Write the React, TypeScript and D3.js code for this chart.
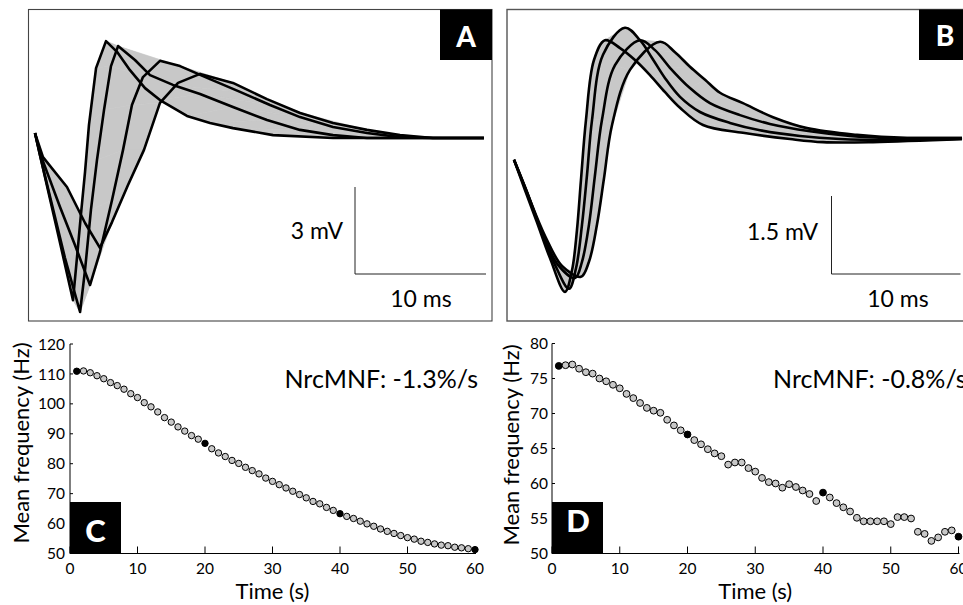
import React from 'react';
import * as d3 from 'd3';

type Pt = [number, number];

// ---- Panel A waveforms: [time ms, amplitude mV] (traces 1, 20, 40, 60) ----
const waveA1: Pt[] = [[0,0.17],[0.76,-1.34],[1.53,-2.86],[2.21,-4.21],[2.90,-5.59],[3.21,-4.10],[3.51,-2.62],[3.82,-1.17],[4.12,0.45],[4.66,2.41],[5.42,3.34],[6.26,2.97],[7.25,2.34],[8.40,1.72],[9.54,1.31],[11.60,0.76],[13.36,0.52],[15.11,0.34],[18.17,0.10],[22.75,0],[27.86,0],[34.27,0]];
const waveA2: Pt[] = [[0,0.17],[0.38,-0.59],[1.15,-2.03],[2.29,-4.14],[3.44,-6.00],[3.82,-4.55],[4.27,-2.48],[4.73,-0.76],[5.27,0.97],[5.80,2.48],[6.34,3.17],[7.63,2.69],[8.78,2.17],[10.53,1.83],[12.60,1.52],[15.11,1.07],[17.71,0.62],[20.23,0.28],[22.75,0.10],[25.34,0],[29.39,0],[34.27,0]];
const waveA3: Pt[] = [[0,0.17],[0.38,-0.52],[1.91,-2.38],[3.05,-3.69],[4.20,-5.07],[4.96,-3.93],[5.88,-2.14],[6.72,-0.41],[7.40,1.14],[8.24,2.10],[9.54,2.66],[11.07,2.48],[13.36,2.03],[15.65,1.59],[17.94,1.14],[20.23,0.72],[22.75,0.38],[25.34,0.17],[27.86,0.03],[30.38,0],[32.44,0],[34.27,0]];
const waveA4: Pt[] = [[0,0.17],[0.61,-0.66],[2.44,-1.69],[3.82,-2.93],[4.96,-3.79],[5.88,-2.90],[7.10,-1.62],[8.32,-0.41],[9.54,1.21],[10.92,1.90],[12.60,2.21],[15.11,1.90],[17.71,1.34],[20.23,0.86],[22.75,0.52],[25.34,0.28],[27.86,0.10],[30.38,0],[31.68,0],[32.44,0],[33.21,0],[34.27,0]];

// ---- Panel B waveforms ----
const waveB1: Pt[] = [[0,-0.42],[0.85,-1.00],[1.78,-1.62],[2.79,-2.31],[3.95,-2.96],[4.50,-2.54],[4.88,-1.77],[5.19,-0.81],[5.58,0.35],[6.20,1.50],[7.05,1.88],[8.22,1.73],[9.38,1.50],[10.54,1.21],[11.71,0.88],[12.87,0.58],[14.65,0.25],[17.75,0.10],[21.40,-0.02],[23.95,-0.08],[27.83,-0.08],[34.73,-0.02]];
const waveB2: Pt[] = [[0,-0.42],[0.93,-1.00],[2.02,-1.73],[3.18,-2.44],[4.26,-2.90],[4.81,-2.50],[5.27,-1.67],[5.66,-0.71],[6.05,0.35],[6.90,1.60],[8.60,2.12],[9.77,1.88],[10.70,1.54],[11.71,1.15],[12.87,0.79],[14.42,0.50],[16.74,0.29],[19.07,0.15],[22.17,0.04],[25.27,-0.02],[29.15,-0.04],[34.73,-0.02]];
const waveB3: Pt[] = [[0,-0.42],[1.01,-1.04],[2.17,-1.81],[3.41,-2.44],[4.73,-2.69],[5.27,-2.38],[5.81,-1.67],[6.28,-0.71],[6.82,0.35],[7.83,1.40],[9.77,1.88],[10.93,1.69],[12.09,1.35],[13.64,0.96],[15.19,0.67],[17.52,0.44],[19.84,0.27],[22.95,0.13],[26.05,0.04],[29.15,0],[31.86,0],[34.73,0]];
const waveB4: Pt[] = [[0,-0.42],[1.09,-1.10],[2.40,-1.88],[3.72,-2.46],[5.19,-2.67],[5.81,-2.38],[6.43,-1.67],[6.98,-0.77],[7.60,0.25],[8.99,1.31],[11.32,1.85],[12.48,1.65],[13.64,1.37],[14.81,1.12],[15.97,0.87],[17.75,0.67],[20.08,0.40],[22.71,0.19],[26.59,0.06],[30.47,0],[32.64,0],[34.73,0]];

// ---- Panels C & D: mean frequency vs time ----
const timeS = [1,2,3,4,5,6,7,8,9,10,11,12,13,14,15,16,17,18,19,20,21,22,23,24,25,26,27,28,29,30,31,32,33,34,35,36,37,38,39,40,41,42,43,44,45,46,47,48,49,50,51,52,53,54,55,56,57,58,59,60];
const freqC = [110.9,111.0,110.4,109.4,108.4,107.1,106.1,104.9,103.4,102.1,100.4,99.0,97.3,95.4,93.9,92.3,90.9,89.4,88.2,86.8,85.0,83.6,82.4,81.1,80.1,78.8,77.7,76.6,75.2,74.1,73.0,71.9,70.8,69.7,68.6,67.4,66.6,65.4,64.4,63.3,62.4,61.7,60.8,59.9,59.1,58.2,57.4,56.7,56.0,55.3,54.8,54.1,53.7,53.2,52.8,52.6,52.1,51.9,51.6,51.3];
const freqD = [76.8,76.9,77.0,76.4,75.9,75.7,75.0,74.6,74.1,73.6,72.8,72.2,71.5,70.8,70.4,70.1,69.1,68.3,67.6,67.0,66.2,65.6,64.9,64.3,63.9,62.7,63.0,63.0,62.2,61.7,60.8,60.2,60.0,59.4,59.9,59.5,59.0,58.5,57.5,58.7,58.0,57.2,56.6,56.0,55.1,54.6,54.6,54.6,54.6,54.2,55.2,55.2,55.0,53.1,52.8,51.8,52.3,53.1,53.3,52.4];
const highlightTimes = [1, 20, 40, 60];

const xTicks = [0, 10, 20, 30, 40, 50, 60];
const yTicksC = [50, 60, 70, 80, 90, 100, 110, 120];
const yTicksD = [50, 55, 60, 65, 70, 75, 80];

const FONT = "Lato, 'Open Sans', 'DejaVu Sans', sans-serif";

type Lin = d3.ScaleLinear<number, number>;

function WavePanel({ traces, x, y, curve }: { traces: Pt[][]; x: Lin; y: Lin; curve: d3.CurveFactory }) {
  const line = d3.line<Pt>().x(d => x(d[0])).y(d => y(d[1])).curve(curve);
  const polys: string[] = [];
  for (let k = 0; k < traces.length - 1; k++) {
    const a = traces[k], b = traces[k + 1];
    for (let i = 0; i < a.length - 1; i++) {
      const pts: [number, number][] = [a[i], a[i + 1], b[i + 1], b[i]].map(p => [x(p[0]), y(p[1])] as [number, number]);
      const hull = d3.polygonHull(pts);
      if (hull) polys.push(hull.map(p => p.join(',')).join(' '));
    }
  }
  return (
    <g>
      {polys.map((p, i) => (
        <polygon key={i} points={p} fill="#c8c8c8" stroke="#c8c8c8" strokeWidth={0.6} />
      ))}
      {traces.map((t, i) => (
        <path key={i} d={line(t) || ''} fill="none" stroke="#000" strokeWidth={2.6} strokeLinejoin="round" />
      ))}
    </g>
  );
}

function ScatterPanel({ x, y, yTicks, values, yLabelX, yTitleX, yTitleY, r }: {
  x: Lin; y: Lin; yTicks: number[]; values: number[]; yLabelX: number; yTitleX: number; yTitleY: number; r: number;
}) {
  const [x0] = x.range();
  const [y0, y1] = y.range();
  const xEnd = x(60);
  return (
    <g fontFamily={FONT}>
      {timeS.map((t, i) => {
        const hl = highlightTimes.includes(t);
        return (
          <circle key={i} cx={x(t)} cy={y(values[i])} r={r}
            fill={hl ? '#000' : '#c8c8c8'} stroke="#000" strokeWidth={1} />
        );
      })}
      <line x1={x0} x2={x0} y1={y1} y2={y0} stroke="#000" strokeWidth={1} />
      <line x1={x0} x2={xEnd + 1} y1={y0} y2={y0} stroke="#000" strokeWidth={1} />
      {yTicks.map(v => (
        <g key={v}>
          <line x1={x0} x2={x0 + 3} y1={y(v)} y2={y(v)} stroke="#000" strokeWidth={1} />
          <text x={yLabelX} y={y(v)} dy="0.36em" textAnchor="end" fontSize={15.5}>{v}</text>
        </g>
      ))}
      {xTicks.map(t => (
        <g key={t}>
          <line x1={x(t)} x2={x(t)} y1={y0} y2={y0 - 7} stroke="#000" strokeWidth={1} />
          <text x={x(t)} y={573.5} textAnchor="middle" fontSize={15.5}>{t}</text>
        </g>
      ))}
      <text x={(x0 + xEnd) / 2} y={599} textAnchor="middle" fontSize={22}>Time (s)</text>
      <text transform={`translate(${yTitleX},${yTitleY}) rotate(-90)`} textAnchor="middle" fontSize={22}>Mean frequency (Hz)</text>
    </g>
  );
}

function LabelBox({ x, y, w, h, letter, tx, ty, size }: { x: number; y: number; w: number; h: number; letter: string; tx: number; ty: number; size: number }) {
  return (
    <g>
      <rect x={x} y={y} width={w} height={h} fill="#000" />
      <text x={tx} y={ty} textAnchor="middle" fill="#fff" fontFamily={FONT} fontWeight={900} fontSize={size}>{letter}</text>
    </g>
  );
}

export default function App() {
  const xA = d3.scaleLinear().domain([0, 10]).range([35, 166]);
  const yA = d3.scaleLinear().domain([0, 3]).range([138, 51]);
  const xB = d3.scaleLinear().domain([0, 10]).range([514, 643]);
  const yB = d3.scaleLinear().domain([0, 1.5]).range([138, 60]);

  const xC = d3.scaleLinear().domain([0, 60]).range([70, 475]);
  const yC = d3.scaleLinear().domain([50, 120]).range([553.5, 344]);
  const xD = d3.scaleLinear().domain([0, 60]).range([552, 958.5]);
  const yD = d3.scaleLinear().domain([50, 80]).range([553.5, 343.5]);

  const barA = { x: 355, y: 274, v: yA(0) - yA(3), h: xA(10) - xA(0) };
  const barB = { x: 831.5, y: 274, v: yB(0) - yB(1.5), h: xB(10) - xB(0) };

  return (
    <svg width={963} height={605} style={{ position: 'absolute', left: 0, top: 0, background: '#fff' }}>
      {/* Panel A */}
      <rect x={28.5} y={9.5} width={463.5} height={311.5} fill="none" stroke="#444" strokeWidth={1.1} />
      <WavePanel traces={[waveA1, waveA2, waveA3, waveA4]} x={xA} y={yA} curve={d3.curveLinear} />
      <line x1={barA.x} x2={barA.x} y1={barA.y - barA.v} y2={barA.y} stroke="#222" strokeWidth={1} />
      <line x1={barA.x} x2={barA.x + barA.h} y1={barA.y} y2={barA.y} stroke="#222" strokeWidth={1} />
      <text x={343} y={239} textAnchor="end" fontFamily={FONT} fontSize={23}>3 mV</text>
      <text x={421} y={307} textAnchor="middle" fontFamily={FONT} fontSize={23}>10 ms</text>
      <LabelBox x={440} y={9.5} w={52} h={50.5} letter="A" tx={466} ty={47} size={28} />

      {/* Panel B */}
      <rect x={507} y={9.5} width={470} height={311.5} fill="none" stroke="#555" strokeWidth={1.4} />
      <WavePanel traces={[waveB1, waveB2, waveB3, waveB4]} x={xB} y={yB} curve={d3.curveCatmullRom.alpha(0.5)} />
      <line x1={barB.x} x2={barB.x} y1={barB.y - barB.v} y2={barB.y} stroke="#222" strokeWidth={1} />
      <line x1={barB.x} x2={barB.x + barB.h} y1={barB.y} y2={barB.y} stroke="#222" strokeWidth={1} />
      <text x={818} y={240} textAnchor="end" fontFamily={FONT} fontSize={23}>1.5 mV</text>
      <text x={898} y={307} textAnchor="middle" fontFamily={FONT} fontSize={23}>10 ms</text>
      <LabelBox x={919} y={9.5} w={50} h={50.5} letter="B" tx={945} ty={46} size={28} />

      {/* Panel C */}
      <LabelBox x={70} y={502} w={51} h={51.5} letter="C" tx={95.5} ty={542} size={31} />
      <ScatterPanel x={xC} y={yC} yTicks={yTicksC} values={freqC} yLabelX={65} yTitleX={29} yTitleY={443} r={3.2} />
      <text x={478} y={388} textAnchor="end" fontFamily={FONT} fontSize={25}>NrcMNF: -1.3%/s</text>

      {/* Panel D */}
      <LabelBox x={552} y={502} w={51} h={51.5} letter="D" tx={578} ty={532} size={31} />
      <ScatterPanel x={xD} y={yD} yTicks={yTicksD} values={freqD} yLabelX={548} yTitleX={519} yTitleY={445} r={3.4} />
      <text x={773} y={388} textAnchor="start" fontFamily={FONT} fontSize={25}>NrcMNF: -0.8%/s</text>
    </svg>
  );
}
